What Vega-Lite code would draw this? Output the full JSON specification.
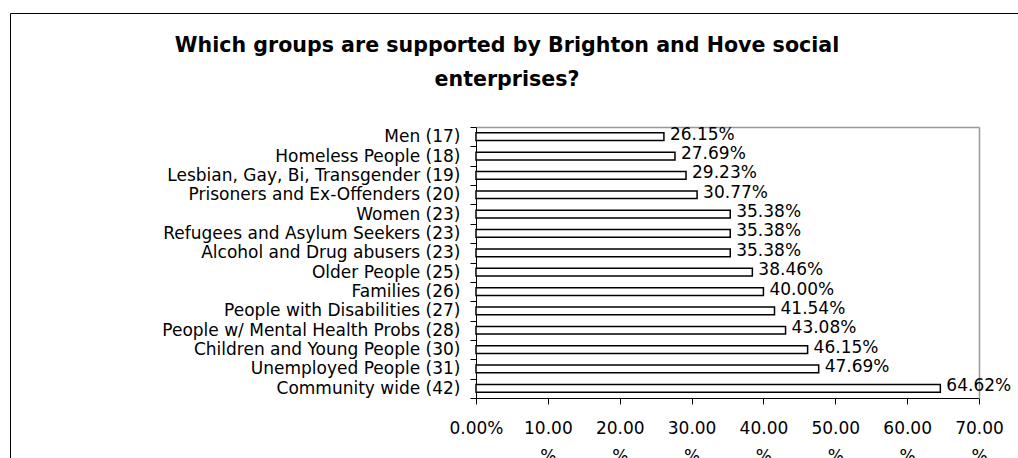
{
  "$schema": "https://vega.github.io/schema/vega-lite/v6.json",
  "width": 1008,
  "height": 445,
  "autosize": {"type": "none"},
  "padding": {"left": 10, "top": 13, "right": 0, "bottom": 0},
  "background": "white",
  "title": {
    "text": ["Which groups are supported by Brighton and Hove social", "enterprises?"],
    "font": "DejaVu Sans",
    "fontSize": 20.6,
    "fontWeight": "bold",
    "color": "black",
    "anchor": "middle",
    "frame": "group",
    "baseline": "top",
    "offset": -87,
    "lineHeight": 34,
    "dx": -7
  },
  "data": {
    "values": [
      {"group": "Men (17)", "p": 0.2615},
      {"group": "Homeless People (18)", "p": 0.2769},
      {"group": "Lesbian, Gay, Bi, Transgender (19)", "p": 0.2923},
      {"group": "Prisoners and Ex-Offenders (20)", "p": 0.3077},
      {"group": "Women (23)", "p": 0.3538},
      {"group": "Refugees and Asylum Seekers (23)", "p": 0.3538},
      {"group": "Alcohol and Drug abusers (23)", "p": 0.3538},
      {"group": "Older People (25)", "p": 0.3846},
      {"group": "Families (26)", "p": 0.4},
      {"group": "People with Disabilities (27)", "p": 0.4154},
      {"group": "People w/ Mental Health Probs (28)", "p": 0.4308},
      {"group": "Children and Young People (30)", "p": 0.4615},
      {"group": "Unemployed People (31)", "p": 0.4769},
      {"group": "Community wide (42)", "p": 0.6462}
    ]
  },
  "layer": [
    {
      "mark": {"type": "bar", "fill": "white", "stroke": "black", "strokeWidth": 1.5, "height": {"band": 0.4}},
      "encoding": {
        "y": {
          "field": "group", "type": "nominal", "sort": null,
          "scale": {"range": [114, 385], "paddingInner": 0, "paddingOuter": 0},
          "axis": {
            "orient": "left", "offset": -466, "title": null,
            "domainColor": "black", "domainWidth": 1, "tickColor": "black", "tickSize": 6, "tickWidth": 1,
            "tickBand": "extent", "labelPadding": 10, "labelFont": "DejaVu Sans", "labelFontSize": 17,
            "labelColor": "black", "labelLimit": 0, "grid": false
          }
        },
        "x": {
          "field": "p", "type": "quantitative",
          "scale": {"domain": [0, 0.7], "range": [466, 969], "nice": false, "zero": true},
          "axis": {
            "orient": "bottom", "offset": -60, "title": null,
            "values": [0, 0.1, 0.2, 0.3, 0.4, 0.5, 0.6, 0.7],
            "labelExpr": "datum.value == 0 ? '0.00%' : [format(datum.value * 100, '.2f'), '%']",
            "labelBaseline": "top", "labelLineHeight": 28, "labelPadding": 16,
            "labelFont": "DejaVu Sans", "labelFontSize": 17, "labelColor": "black",
            "labelOverlap": false, "labelFlush": false,
            "domainColor": "black", "domainWidth": 1, "tickColor": "black", "tickSize": 6, "tickWidth": 1,
            "grid": false
          }
        }
      }
    },
    {
      "mark": {"type": "text", "align": "left", "baseline": "middle", "dx": 6, "dy": -2, "font": "DejaVu Sans", "fontSize": 17, "color": "black"},
      "encoding": {
        "y": {
          "field": "group", "type": "nominal", "sort": null,
          "axis": {"orient": "right", "offset": -39, "title": null, "labels": false, "ticks": false, "domainColor": "#999999", "domainWidth": 1.5, "grid": false}
        },
        "x": {
          "field": "p", "type": "quantitative",
          "axis": {"orient": "top", "offset": -114, "title": null, "labels": false, "ticks": false, "domainColor": "#999999", "domainWidth": 1.5, "grid": false}
        },
        "text": {"field": "p", "type": "quantitative", "format": ".2%"}
      }
    }
  ],
  "resolve": {"axis": {"x": "independent", "y": "independent"}},
  "config": {
    "view": {"stroke": "black", "strokeWidth": 1, "fill": "white"},
    "axis": {"grid": false}
  }
}
